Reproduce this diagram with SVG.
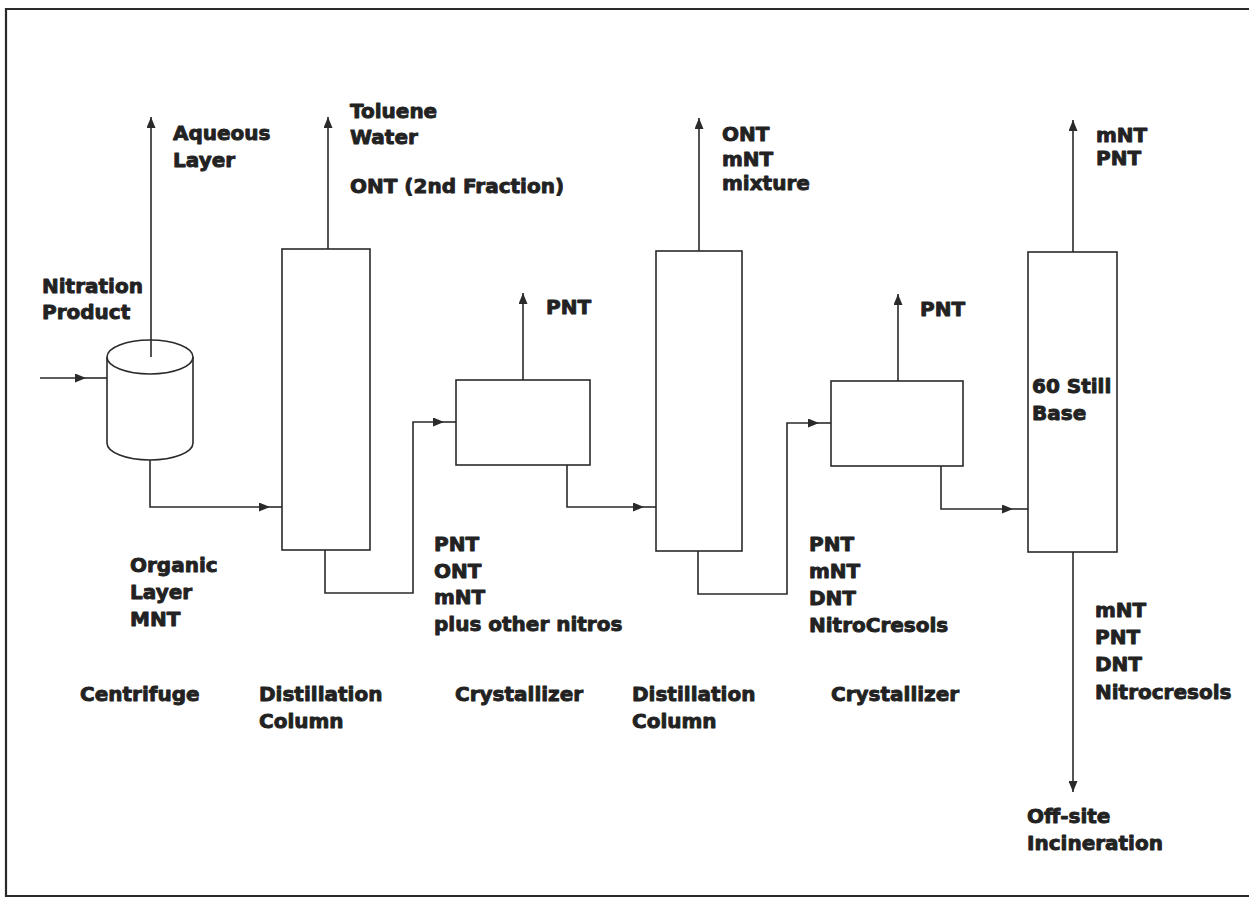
<svg xmlns="http://www.w3.org/2000/svg" width="1249" height="899" viewBox="0 0 1249 899">
<defs>
<marker id="ah" viewBox="0 0 11 9" refX="11" refY="4.5" markerWidth="11" markerHeight="9" markerUnits="userSpaceOnUse" orient="auto">
<path d="M0,0 L11,4.5 L0,9 Z" fill="#2a2a2a"/>
</marker>
</defs>
<style>
.ln{fill:none;stroke:#2a2a2a;stroke-width:1.6}
.bx{fill:#fff;stroke:#2a2a2a;stroke-width:1.6}
text{font-family:"DejaVu Sans","Liberation Sans",sans-serif;font-weight:bold;font-size:20px;fill:#222;stroke:#222;stroke-width:0.9;stroke-linejoin:round}
</style>
<rect width="1249" height="899" fill="#fff"/>
<path d="M1249,9 H6 V896 H1249" fill="none" stroke="#2a2a2a" stroke-width="2.2"/>

<g id="connectors">
<line class="ln" x1="151" y1="357" x2="151" y2="117" marker-end="url(#ah)"/>
<line class="ln" x1="40" y1="378" x2="86" y2="378" marker-end="url(#ah)"/>
<line class="ln" x1="86" y1="378" x2="107" y2="378"/>
<path class="ln" d="M150,460 V507 H270" marker-end="url(#ah)"/>
<line class="ln" x1="270" y1="507" x2="282" y2="507"/>
<line class="ln" x1="328" y1="249" x2="328" y2="117" marker-end="url(#ah)"/>
<path class="ln" d="M325,550 V593 H413 V422 H444" marker-end="url(#ah)"/>
<line class="ln" x1="444" y1="422" x2="456" y2="422"/>
<line class="ln" x1="523" y1="380" x2="523" y2="293" marker-end="url(#ah)"/>
<path class="ln" d="M567,465 V507 H644" marker-end="url(#ah)"/>
<line class="ln" x1="644" y1="507" x2="656" y2="507"/>
<line class="ln" x1="699" y1="251" x2="699" y2="118" marker-end="url(#ah)"/>
<path class="ln" d="M698,551 V594 H787 V423 H819" marker-end="url(#ah)"/>
<line class="ln" x1="819" y1="423" x2="831" y2="423"/>
<line class="ln" x1="898" y1="381" x2="898" y2="294" marker-end="url(#ah)"/>
<path class="ln" d="M941,466 V509 H1013" marker-end="url(#ah)"/>
<line class="ln" x1="1013" y1="509" x2="1028" y2="509"/>
<line class="ln" x1="1073" y1="252" x2="1073" y2="120" marker-end="url(#ah)"/>
<line class="ln" x1="1073" y1="552" x2="1073" y2="792" marker-end="url(#ah)"/>
</g>

<g id="centrifuge">
<path class="bx" d="M107,357 V443 A43,17 0 0 0 193,443 V357"/>
<ellipse class="bx" cx="150" cy="357" rx="43" ry="17"/>
<line class="ln" x1="151" y1="357" x2="151" y2="340"/>
<text x="130" y="572">Organic</text>
<text x="130" y="599">Layer</text>
<text x="130" y="626">MNT</text>
<text x="80" y="701">Centrifuge</text>
</g>

<g id="feed">
<text x="42" y="293">Nitration</text>
<text x="42" y="319">Product</text>
</g>

<g id="aqueous">
<text x="173" y="140">Aqueous</text>
<text x="173" y="167">Layer</text>
</g>

<g id="column1">
<rect class="bx" x="282" y="249" width="88" height="301"/>
<text x="350" y="118">Toluene</text>
<text x="350" y="144">Water</text>
<text x="350" y="193">ONT (2nd Fraction)</text>
<text x="259" y="701">Distillation</text>
<text x="259" y="728">Column</text>
</g>

<g id="crystallizer1">
<rect class="bx" x="456" y="380" width="134" height="85"/>
<text x="546" y="314">PNT</text>
<text x="434" y="551">PNT</text>
<text x="434" y="578">ONT</text>
<text x="434" y="604">mNT</text>
<text x="434" y="631">plus other nitros</text>
<text x="455" y="701">Crystallizer</text>
</g>

<g id="column2">
<rect class="bx" x="656" y="251" width="86" height="300"/>
<text x="722" y="141">ONT</text>
<text x="722" y="166">mNT</text>
<text x="722" y="190">mixture</text>
<text x="632" y="701">Distillation</text>
<text x="632" y="728">Column</text>
</g>

<g id="crystallizer2">
<rect class="bx" x="831" y="381" width="132" height="85"/>
<text x="920" y="316">PNT</text>
<text x="809" y="551">PNT</text>
<text x="809" y="578">mNT</text>
<text x="809" y="605">DNT</text>
<text x="809" y="632">NitroCresols</text>
<text x="831" y="701">Crystallizer</text>
</g>

<g id="stillbase">
<rect class="bx" x="1028" y="252" width="89" height="300"/>
<text x="1032" y="393">60 Still</text>
<text x="1032" y="420">Base</text>
<text x="1096" y="142">mNT</text>
<text x="1096" y="165">PNT</text>
<text x="1095" y="617">mNT</text>
<text x="1095" y="644">PNT</text>
<text x="1095" y="671">DNT</text>
<text x="1095" y="699">Nitrocresols</text>
<text x="1027" y="823">Off-site</text>
<text x="1027" y="850">Incineration</text>
</g>
</svg>
